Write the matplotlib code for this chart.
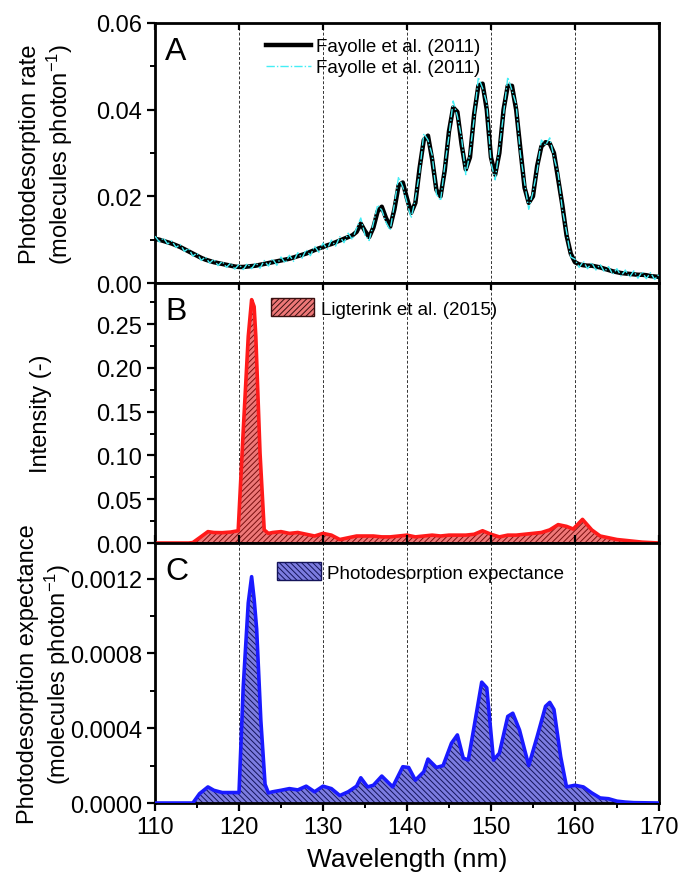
import numpy as np
import matplotlib.pyplot as plt
from matplotlib.patches import Patch
from matplotlib.ticker import MultipleLocator, FormatStrFormatter

plt.rcParams['font.family'] = ['Liberation Sans', 'DejaVu Sans']
plt.rcParams['mathtext.fontset'] = 'custom'
plt.rcParams['mathtext.rm'] = 'Liberation Sans'
plt.rcParams['mathtext.default'] = 'rm'
plt.rcParams['hatch.linewidth'] = 0.7

# ---- Panel A: photodesorption rate (Fayolle et al. 2011), 0.5 nm grid ----
wl_a = np.linspace(110, 170, 121)
rate_smooth = [
    .0102, .0100, .0097, .0094, .0091, .0087, .0083, .0078, .0073, .0068,
    .0063, .0058, .0054, .0051, .0048, .0046, .0044, .0042, .0040, .0038,
    .0037, .0037, .0038, .0039, .0040, .0042, .0044, .0046, .0048, .0050,
    .0052, .0054, .0056, .0059, .0062, .0065, .0068, .0072, .0076, .0080,
    .0083, .0087, .0090, .0094, .0098, .0102, .0106, .0110, .0118, .0137,
    .0120, .0106, .0128, .0165, .0176, .0150, .0130, .0170, .0225, .0232,
    .0195, .0162, .0185, .0265, .0330, .0340, .0285, .0215, .0200, .0260,
    .0350, .0405, .0395, .0320, .0262, .0290, .0390, .0455, .0460, .0400,
    .0290, .0250, .0300, .0400, .0455, .0455, .0400, .0310, .0220, .0185,
    .0200, .0270, .0315, .0325, .0322, .0300, .0240, .0180, .0110, .0068,
    .0048, .0043, .0041, .0040, .0040, .0038, .0036, .0033, .0030, .0027,
    .0025, .0023, .0022, .0021, .0020, .0019, .0019, .0018, .0016, .0015,
    .0014]
rate_raw = [
    .0108, .0095, .0104, .0090, .0097, .0082, .0089, .0073, .0080, .0062,
    .0069, .0052, .0060, .0046, .0055, .0040, .0050, .0036, .0046, .0032,
    .0043, .0031, .0045, .0033, .0047, .0034, .0052, .0039, .0056, .0041,
    .0060, .0046, .0064, .0050, .0070, .0057, .0077, .0063, .0085, .0071,
    .0092, .0078, .0099, .0085, .0107, .0093, .0115, .0100, .0127, .0150,
    .0110, .0098, .0138, .0180, .0168, .0140, .0122, .0182, .0245, .0222,
    .0185, .0150, .0195, .0255, .0345, .0330, .0295, .0205, .0190, .0270,
    .0340, .0420, .0385, .0335, .0250, .0300, .0380, .0475, .0450, .0415,
    .0278, .0238, .0312, .0390, .0475, .0445, .0412, .0298, .0232, .0170,
    .0210, .0260, .0330, .0318, .0335, .0290, .0252, .0170, .0118, .0060,
    .0055, .0036, .0050, .0033, .0047, .0030, .0043, .0026, .0038, .0020,
    .0033, .0016, .0030, .0013, .0028, .0011, .0026, .0010, .0024, .0008,
    .0020]

# ---- Panel B: Ligterink et al. (2015) spectrum ----
wl_b = [110, 114, 114.5, 115.3, 116.3, 117, 118, 119, 119.9, 120.5, 121.1, 121.5,
        121.8, 122.0, 122.5, 123.0, 123.5, 124, 125, 126, 127, 128, 129, 130,
        131, 132, 133, 134, 135, 136, 137, 138, 139, 140, 141, 142, 143, 144,
        145, 146, 147, 148, 149, 150, 151, 152, 153, 154, 155, 156, 157, 158,
        159, 159.8, 160.9, 162, 163, 164, 165, 166, 167, 168, 169, 170]
intensity = [0, 0, 0.0005, 0.006, 0.013, 0.012, 0.0118, 0.0125, 0.014, 0.128, 0.236, 0.278,
             0.270, 0.236, 0.103, 0.015, 0.011, 0.012, 0.013, 0.011, 0.012, 0.010, 0.008, 0.011,
             0.009, 0.004, 0.006, 0.008, 0.008, 0.008, 0.007, 0.007, 0.008, 0.009, 0.007, 0.008, 0.009, 0.008,
             0.009, 0.009, 0.009, 0.010, 0.014, 0.010, 0.007, 0.009, 0.009, 0.010, 0.011, 0.012, 0.015, 0.021,
             0.019, 0.016, 0.027, 0.015, 0.008, 0.006, 0.004, 0.003, 0.002, 0.001, 0.0005, 0]

# ---- Panel C: photodesorption expectance ----
wl_c = [110, 114, 114.5, 115.3, 116.3, 117, 118, 119, 120.0, 120.5, 121.1, 121.5,
        121.8, 122.1, 122.6, 123.1, 123.5, 124, 125, 126, 127, 128, 129, 130,
        131, 132, 133, 134, 134.5, 135.3, 136, 137, 138.3, 139.5, 140.2, 141, 142,
        142.5, 143.5, 144.3, 145.3, 146, 146.7, 147.3, 148, 148.9, 149.5, 150.3,
        151, 152, 152.6, 153.4, 154.5, 155.5, 156.5, 157, 157.5, 158.3, 159,
        160, 161, 162, 163, 164, 165, 166, 167, 170]
expectance = [0, 0, 0, 0.00005, 0.000086, 0.000068, 0.000056, 0.000056, 0.000056, 0.00062, 0.00107, 0.00121,
              0.00109, 0.00093, 0.00044, 0.0001, 0.000054, 0.00006, 0.000068, 0.000077, 0.00007, 0.00009, 0.00006, 0.00009,
              0.000077, 0.00004, 0.00006, 0.00009, 0.000135, 0.000086, 0.000095, 0.000144, 0.000086, 0.000194, 0.00019, 0.000122, 0.000167,
              0.000235, 0.00019, 0.0002, 0.00032, 0.000364, 0.00024, 0.00023, 0.00041, 0.000646, 0.000616, 0.00023,
              0.000266, 0.000463, 0.00048, 0.00039, 0.0002, 0.000355, 0.000517, 0.000538, 0.0005, 0.000248, 0.000086,
              0.000095, 0.000086, 0.000054, 0.000027, 0.000023, 0.00001, 0.000005, 0.000002, 0]

grid_wl = [120, 130, 140, 150, 160]

fig = plt.figure(figsize=(6.8, 8.79), dpi=100)
gs = fig.add_gridspec(3, 1, left=0.228, right=0.969, top=0.9727, bottom=0.0853, hspace=0)
axes = [fig.add_subplot(gs[i]) for i in range(3)]
axA, axB, axC = axes

for ax in axes:
    ax.set_xlim(110, 170)
    for g in grid_wl:
        ax.axvline(g, color='#333333', lw=0.7, ls=(0, (3, 2)), zorder=1)
    for s in ax.spines.values():
        s.set_linewidth(2.0)
    ax.xaxis.set_major_locator(MultipleLocator(10))
    ax.xaxis.set_minor_locator(MultipleLocator(5))
    ax.tick_params(axis='y', which='major', direction='out', length=6, width=1.6, labelsize=17)
    ax.tick_params(axis='y', which='minor', direction='out', length=3.5, width=1.4)
    ax.tick_params(axis='x', which='both', bottom=False, top=True, labelbottom=False, direction='in',
                   length=5, width=1.6)
    ax.tick_params(axis='x', which='minor', top=False)

axC.tick_params(axis='x', which='major', bottom=True, labelbottom=True, direction='out', length=6,
                labelsize=17)
axC.tick_params(axis='x', which='minor', bottom=True, direction='out', length=3.5, width=1.4)
axC.set_xlabel('Wavelength (nm)', fontsize=19, labelpad=6)

# Panel A
axA.plot(wl_a, rate_smooth, color='black', lw=3.2, zorder=3, label='Fayolle et al. (2011)')
axA.plot(wl_a, rate_raw, color='#44eef5', lw=1.0, ls=(0, (6, 1.5, 1, 1.5)), zorder=4,
         label='Fayolle et al. (2011)')
axA.set_ylim(0, 0.06)
axA.yaxis.set_major_locator(MultipleLocator(0.02))
axA.yaxis.set_minor_locator(MultipleLocator(0.01))
axA.yaxis.set_major_formatter(FormatStrFormatter('%.2f'))
axA.set_ylabel('Photodesorption rate\n(molecules photon$^{-1}$)', fontsize=17)
axA.legend(loc='upper left', bbox_to_anchor=(0.205, 0.97), frameon=False, fontsize=13.5,
           handlelength=2.4, handletextpad=0.3, borderaxespad=0, labelspacing=0.2)

# Panel B
axB.fill_between(wl_b, intensity, 0, facecolor='#ee7878', edgecolor='#7a1010', hatch='//////',
                 linewidth=0, zorder=2)
axB.plot(wl_b, intensity, color='#ff1a1a', lw=2.6, zorder=3)
axB.set_ylim(0, 0.297)
axB.yaxis.set_major_locator(MultipleLocator(0.05))
axB.yaxis.set_minor_locator(MultipleLocator(0.025))
axB.yaxis.set_major_formatter(FormatStrFormatter('%.2f'))
axB.set_ylabel('Intensity (-)', fontsize=17)
hB = Patch(facecolor='#ee7878', edgecolor='#3a1010', hatch='//////', label='Ligterink et al. (2015)')
axB.legend(handles=[hB], loc='upper left', bbox_to_anchor=(0.215, 0.97), frameon=False, fontsize=13.5,
           handlelength=2.3, handleheight=1.1, handletextpad=0.35, borderaxespad=0)

# Panel C
axC.fill_between(wl_c, expectance, 0, facecolor='#7c7ce0', edgecolor='#14145a', hatch='\\\\\\\\\\\\',
                 linewidth=0, zorder=2)
axC.plot(wl_c, expectance, color='#1a1aff', lw=2.6, zorder=3)
axC.set_ylim(0, 0.00139)
axC.yaxis.set_major_locator(MultipleLocator(0.0004))
axC.yaxis.set_minor_locator(MultipleLocator(0.0002))
axC.yaxis.set_major_formatter(FormatStrFormatter('%.4f'))
axC.set_ylabel('Photodesorption expectance\n(molecules photon$^{-1}$)', fontsize=17)
hC = Patch(facecolor='#7c7ce0', edgecolor='#14145a', hatch='\\\\\\\\\\\\', label='Photodesorption expectance')
axC.legend(handles=[hC], loc='upper left', bbox_to_anchor=(0.228, 0.955), frameon=False, fontsize=13.5,
           handlelength=2.3, handleheight=1.1, handletextpad=0.35, borderaxespad=0)

for ax, letter in zip(axes, ['A', 'B', 'C']):
    ax.text(0.02, 0.95, letter, transform=ax.transAxes, fontsize=23, va='top', ha='left')

axA.yaxis.set_label_coords(-0.158, 0.5)
axB.yaxis.set_label_coords(-0.205, 0.5)
axC.yaxis.set_label_coords(-0.162, 0.5)

fig.savefig('out.png', dpi=100)
